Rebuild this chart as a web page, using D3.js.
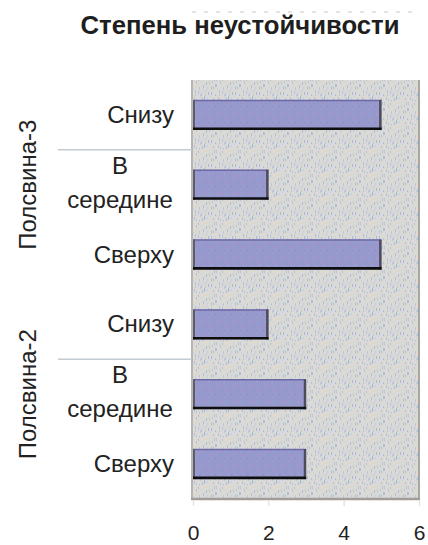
<!DOCTYPE html>
<html>
<head>
<meta charset="utf-8">
<script src="https://cdn.jsdelivr.net/npm/d3@7"></script>
<style>
  html, body { margin: 0; padding: 0; background: #ffffff; }
  svg { display: block; font-family: "Liberation Sans", Arial, sans-serif; }
</style>
</head>
<body>
<svg id="chart" width="428" height="545"></svg>
<script>
// Chart data (listed bottom to top, as the bars are stacked on the axis)
const groups = ["Полсвина-2", "Полсвина-3"];
const positions = ["Сверху", "В середине", "Снизу"];
const valuesGroup2 = [3, 3, 2];
const valuesGroup3 = [5, 2, 5];
const xTicks = [0, 2, 4, 6];
const title = "Степень неустойчивости";

const rows = [];
groups.forEach((g, gi) => {
  const vals = gi === 0 ? valuesGroup2 : valuesGroup3;
  positions.forEach((p, pi) => rows.push({ key: g + "|" + p, group: g, pos: p, value: vals[pi] }));
});

const svg = d3.select("#chart");
const plot = { left: 192, right: 419, top: 80, bottom: 499 };

const x = d3.scaleLinear().domain([0, 6]).range([plot.left + 1, plot.right]);
const y = d3.scaleBand()
  .domain(rows.map(d => d.key))
  .range([plot.bottom, plot.top])
  .paddingInner(0.57)
  .paddingOuter(0.285);

// Speckled textures for the plot area and the bars
const defs = svg.append("defs");
const bgSpecks = [
  [2,1,3,"#a8c4e4"],[7,4,2,"#b4cce0"],[12,0,4,"#a0bce0"],[17,6,3,"#c8dcd4"],
  [21,2,2,"#a8c4e4"],[4,9,3,"#b0c8e4"],[9,12,2,"#d8e2c6"],[14,10,3,"#a4c0e4"],
  [19,14,4,"#b0c8e0"],[1,16,2,"#c4d8dc"],[6,19,3,"#a8c4e4"],[11,17,2,"#b8d0e4"],
  [16,20,3,"#a0bce0"],[22,18,2,"#d4e0cc"],[3,22,2,"#b0c8e0"],[13,5,2,"#e6e0c2"],
  [20,9,2,"#a8c4e4"],[8,0,2,"#c0d4e4"],[0,6,3,"#b4cce4"],[10,7,1,"#e8e2c4"],
  [23,12,3,"#a4c0e0"],[5,14,1,"#c8dad8"],[15,15,2,"#b8cce4"],[18,0,2,"#c4d6e0"],
  [9,21,3,"#a8c2e4"],[2,11,2,"#dee4cc"],[13,22,2,"#b0c8e4"],
  [4,3,2,"#b0c8e4"],[10,2,3,"#a6c2e6"],[15,1,2,"#bcd0e2"],[22,6,3,"#a8c4e4"],
  [6,7,2,"#a2bee2"],[17,10,2,"#aac4e4"],[11,13,3,"#a8c2e4"],[0,12,3,"#aac6e6"],
  [7,15,3,"#b2cae4"],[21,15,2,"#a6c2e4"],[3,18,3,"#a8c4e2"],[14,18,2,"#b4cce4"],
  [19,20,3,"#a4c0e2"],[8,23,1,"#b0c8e0"],[23,22,2,"#aac4e4"],[12,20,2,"#cad8d4"]
];
const bgPat = defs.append("pattern")
  .attr("id", "bgTex").attr("patternUnits", "userSpaceOnUse")
  .attr("width", 24).attr("height", 24);
bgPat.append("rect").attr("width", 24).attr("height", 24).attr("fill", "#dcd9d5");
bgPat.selectAll("rect.s").data(bgSpecks).join("rect").attr("class", "s")
  .attr("x", d => d[0]).attr("y", d => d[1]).attr("width", 1).attr("height", d => d[2])
  .attr("fill", d => d[3]);

const barSpecks = [
  [1,0,4,"#86a6dc"],[5,3,3,"#7ea2e0"],[9,1,2,"#8cacd8"],[13,5,4,"#78a0e2"],
  [3,8,3,"#8aa8dc"],[7,10,2,"#6f9ae0"],[11,9,3,"#88a8dc"],[15,12,2,"#80a4de"],
  [0,13,2,"#8eacd8"],[6,14,2,"#7aa0e0"]
];
const barPat = defs.append("pattern")
  .attr("id", "barTex").attr("patternUnits", "userSpaceOnUse")
  .attr("width", 16).attr("height", 16);
barPat.append("rect").attr("width", 16).attr("height", 16).attr("fill", "#9a97cb");
barPat.selectAll("rect.s").data(barSpecks).join("rect").attr("class", "s")
  .attr("x", d => d[0]).attr("y", d => d[1]).attr("width", 1).attr("height", d => d[2])
  .attr("fill", d => d[3]);

// Title
svg.append("text")
  .attr("x", 240).attr("y", 34)
  .attr("text-anchor", "middle")
  .attr("font-size", 25.7).attr("font-weight", "bold").attr("fill", "#1e1e1e")
  .text(title);

// Faint dashed rule above the title
svg.append("line")
  .attr("x1", plot.left).attr("x2", plot.right).attr("y1", 12).attr("y2", 12)
  .attr("stroke", "#a0a0a0").attr("stroke-width", 1)
  .attr("stroke-dasharray", "4,8").attr("opacity", 0.6);

// Plot area
svg.append("rect")
  .attr("x", plot.left).attr("y", plot.top)
  .attr("width", plot.right - plot.left).attr("height", plot.bottom - plot.top)
  .attr("fill", "url(#bgTex)");
svg.append("line").attr("x1", plot.left).attr("x2", plot.left)
  .attr("y1", plot.top).attr("y2", plot.bottom)
  .attr("stroke", "#b8b4b0").attr("stroke-width", 2);
svg.append("line").attr("x1", plot.right).attr("x2", plot.right)
  .attr("y1", plot.top).attr("y2", plot.bottom)
  .attr("stroke", "#aaa6a2").attr("stroke-width", 2);
svg.append("line").attr("x1", plot.left - 1).attr("x2", plot.right + 1)
  .attr("y1", plot.bottom).attr("y2", plot.bottom)
  .attr("stroke", "#a29d99").attr("stroke-width", 2.5);

// Bars
const bars = svg.append("g").selectAll("g").data(rows).join("g");
bars.append("rect")
  .attr("x", x(0)).attr("y", d => y(d.key))
  .attr("width", d => x(d.value) - x(0)).attr("height", y.bandwidth())
  .attr("fill", "url(#barTex)");
bars.append("line") // top edge
  .attr("x1", x(0)).attr("x2", d => x(d.value))
  .attr("y1", d => y(d.key) + 0.5).attr("y2", d => y(d.key) + 0.5)
  .attr("stroke", "#6e6aa8").attr("stroke-width", 1.5);
bars.append("line") // left edge
  .attr("x1", x(0) + 1).attr("x2", x(0) + 1)
  .attr("y1", d => y(d.key)).attr("y2", d => y(d.key) + y.bandwidth())
  .attr("stroke", "#5e5c6c").attr("stroke-width", 2);
bars.append("line") // right edge
  .attr("x1", d => x(d.value) - 1).attr("x2", d => x(d.value) - 1)
  .attr("y1", d => y(d.key)).attr("y2", d => y(d.key) + y.bandwidth())
  .attr("stroke", "#4e4c5c").attr("stroke-width", 2.5);
bars.append("line") // bottom edge
  .attr("x1", x(0)).attr("x2", d => x(d.value) + 0.2)
  .attr("y1", d => y(d.key) + y.bandwidth() - 1.2).attr("y2", d => y(d.key) + y.bandwidth() - 1.2)
  .attr("stroke", "#0e0e0e").attr("stroke-width", 2.6);

// X axis
const xAxis = svg.append("g")
  .attr("transform", `translate(0,${plot.bottom + 1})`)
  .call(d3.axisBottom(x).tickValues(xTicks).tickSize(6).tickPadding(19).tickFormat(d3.format("d")));
xAxis.select(".domain").remove();
xAxis.selectAll(".tick line").attr("stroke", "#e6e4e2").attr("stroke-width", 1.5);
xAxis.selectAll(".tick text")
  .attr("font-family", "'Liberation Sans', Arial, sans-serif")
  .attr("font-size", 21).attr("fill", "#222");

// Category labels
const catFont = 24;
const lab = svg.append("g").attr("font-size", catFont).attr("fill", "#222");
rows.forEach(d => {
  const cy = y(d.key) + y.bandwidth() / 2;
  const words = d.pos.split(" ");
  if (words.length === 1) {
    lab.append("text").attr("x", 174).attr("y", cy + 8)
      .attr("text-anchor", "end").text(d.pos);
  } else {
    const t = lab.append("text").attr("text-anchor", "middle");
    t.append("tspan").attr("x", 120).attr("y", cy - 11).text(words[0]);
    t.append("tspan").attr("x", 120).attr("y", cy + 23).text(words[1]);
  }
});

// Group separators and group labels
groups.forEach(g => {
  const top = y(g + "|Снизу");
  const mid = y(g + "|В середине");
  const sepY = (top + y.bandwidth() + mid) / 2;
  svg.append("line")
    .attr("x1", 58).attr("x2", plot.left).attr("y1", sepY).attr("y2", sepY)
    .attr("stroke", "#c4cad2").attr("stroke-width", 1.5);
  const cy = mid + y.bandwidth() / 2;
  svg.append("text")
    .attr("transform", `translate(36,${cy}) rotate(-90)`)
    .attr("text-anchor", "middle")
    .attr("font-size", catFont).attr("fill", "#222")
    .text(g);
});
</script>
</body>
</html>
